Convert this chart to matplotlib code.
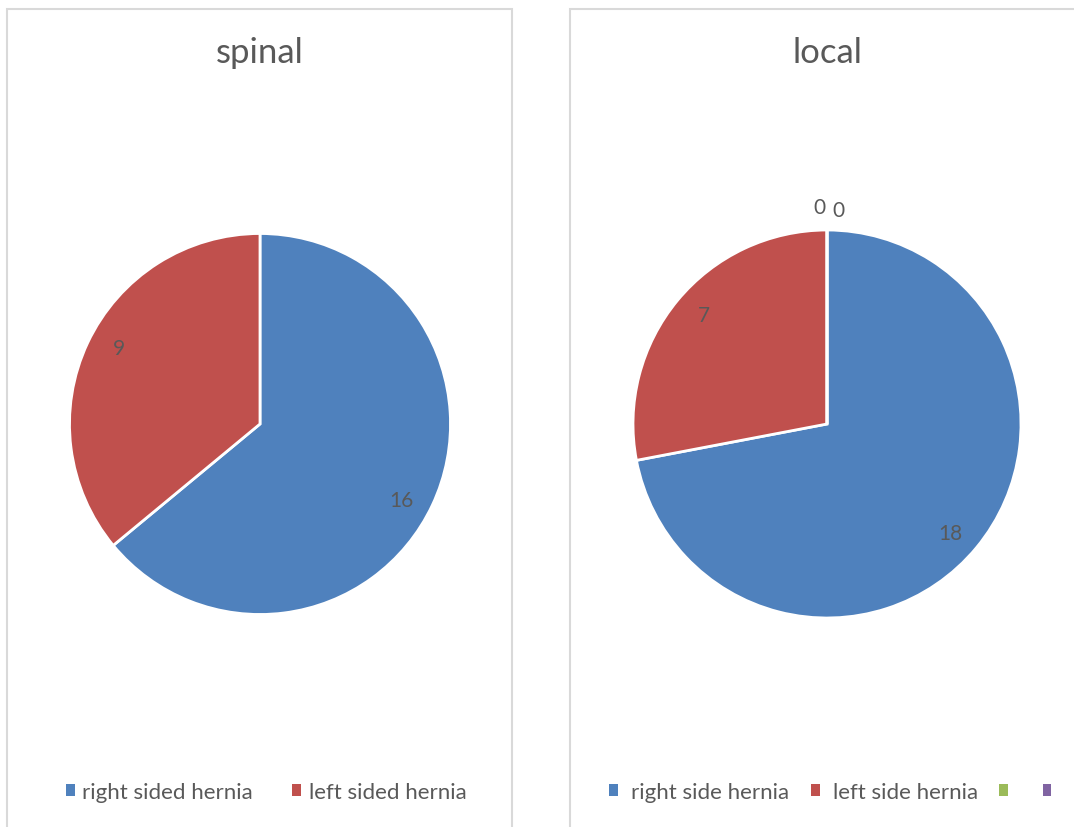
import matplotlib
matplotlib.use("Agg")
import matplotlib.pyplot as plt
from matplotlib.patches import Rectangle, Patch
import numpy as np

plt.rcParams['font.family'] = ['Lato', 'DejaVu Sans']

# data
spinal_labels = ["right sided hernia", "left sided hernia"]
spinal_values = [16, 9]
local_labels = ["right side hernia", "left side hernia", "", ""]
local_values = [18, 7, 0, 0]

COLORS = ["#4F81BD", "#C0504D", "#9BBB59", "#8064A2"]
TXT = "#595959"
W, H = 1074, 828

fig = plt.figure(figsize=(W / 100, H / 100), dpi=100)
fig.patch.set_facecolor("white")


def px_axes(cx, cy, r):
	return fig.add_axes([(cx - r) / W, (H - cy - r) / H, 2 * r / W, 2 * r / H])


def draw_pie(ax, values, colors, dist=0.84, shift=-3.0):
	wedges, texts = ax.pie(values, colors=colors, startangle=90, counterclock=False,
		labels=[str(v) for v in values], labeldistance=dist,
		wedgeprops=dict(edgecolor="white", linewidth=2),
		textprops=dict(color=TXT, fontsize=15, ha="center", va="center"))
	ax.set_xlim(-1, 1)
	ax.set_ylim(-1, 1)
	ax.set_aspect("equal")
	ax.axis("off")
	k = 0
	for w, t, v in zip(wedges, texts, values):
		t.set_ha("center")
		t.set_va("center")
		if v == 0:
			# zero slices get pushed outside the pie, side by side
			t.set_position((-0.04 + 0.1 * k, 1.12 - 0.015 * k))
			k += 1
		else:
			a = np.deg2rad((w.theta1 + w.theta2) / 2 + shift)
			t.set_position((dist * np.cos(a), dist * np.sin(a)))
	return wedges


# panel borders
for x0, x1 in [(7, 512), (570, 1090)]:
	fig.patches.append(Rectangle((x0 / W, -0.05), (x1 - x0) / W, (H - 10) / H + 0.05,
		transform=fig.transFigure, fill=False, edgecolor="#D9D9D9", linewidth=1.5))

ax1 = px_axes(260, 425, 190.5)
draw_pie(ax1, spinal_values, COLORS[:2])
ax2 = px_axes(827, 425, 194)
draw_pie(ax2, local_values, COLORS, dist=0.85, shift=-2.0)

fig.text(260 / W, 1 - 53 / H, "spinal", ha="center", va="center", fontsize=25, color=TXT)
fig.text(827 / W, 1 - 53 / H, "local", ha="center", va="center", fontsize=25, color=TXT)

h1 = [Patch(facecolor=c) for c in COLORS[:2]]
fig.legend(h1, spinal_labels, loc="center", bbox_to_anchor=(266 / W, 1 - 793 / H),
	ncol=2, frameon=False, fontsize=16, labelcolor=TXT, handlelength=0.4, handleheight=0.4,
	handletextpad=0.35, columnspacing=1.75)
h2 = [Patch(facecolor=c) for c in COLORS]
fig.legend(h2, local_labels, loc="center", bbox_to_anchor=(837 / W, 1 - 793 / H),
	ncol=4, frameon=False, fontsize=16, labelcolor=TXT, handlelength=0.4, handleheight=0.4,
	handletextpad=0.6, columnspacing=0.95)

fig.savefig("out.png", dpi=100)
